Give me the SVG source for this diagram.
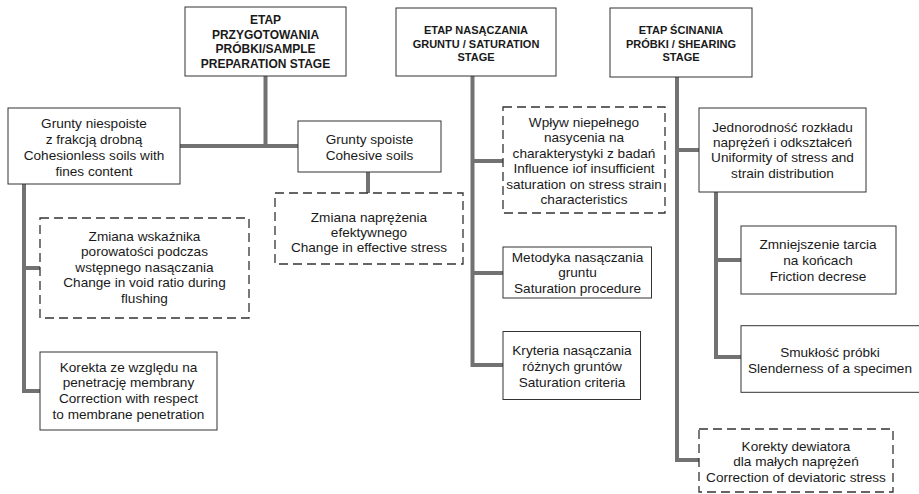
<svg xmlns="http://www.w3.org/2000/svg" width="919" height="494" viewBox="0 0 919 494">
<style>
  .box { fill: #fff; stroke: #333; stroke-width: 1; }
  .dash { fill: #fff; stroke: #333; stroke-width: 1.3; stroke-dasharray: 9 5; }
  .hd { font-family: "Liberation Sans", Arial, sans-serif; font-weight: bold; font-size: 11px; fill: #1a1a1a; text-anchor: middle; }
  .hd1 { font-size: 12px; }
  .tx { font-family: "Liberation Sans", Arial, sans-serif; font-size: 13.6px; fill: #1a1a1a; text-anchor: middle; }
  .ln { fill: none; stroke: #727272; stroke-width: 4; stroke-linejoin: miter; stroke-linecap: butt; }
</style>
<rect width="919" height="494" fill="#fff"/>
<g id="connectors">
  <polyline class="ln" points="265.5,76 265.5,146"/>
  <polyline class="ln" points="180,146 298,146"/>
  <polyline class="ln" points="368,172 368,193"/>
  <polyline class="ln" points="40,268 24,268"/>
  <polyline class="ln" points="24,184 24,391 40,391"/>
  <polyline class="ln" points="472.5,76 472.5,365 503,365"/>
  <polyline class="ln" points="472.5,161 503,161"/>
  <polyline class="ln" points="472.5,273 503,273"/>
  <polyline class="ln" points="677,77 677,460 699,460"/>
  <polyline class="ln" points="677,150 699,150"/>
  <polyline class="ln" points="716,192 716,357 741,357"/>
  <polyline class="ln" points="716,260 741,260"/>
</g>
<g id="stage1">
  <rect class="box" x="185" y="7" width="161" height="69"/>
  <text class="hd hd1" x="265.5" y="24">ETAP</text>
  <text class="hd hd1" x="265.5" y="38.5">PRZYGOTOWANIA</text>
  <text class="hd hd1" x="265.5" y="53">PRÓBKI/SAMPLE</text>
  <text class="hd hd1" x="265.5" y="67.5">PREPARATION STAGE</text>
</g>
<g id="stage2">
  <rect class="box" x="396" y="8" width="160" height="68"/>
  <text class="hd" x="476" y="34.3">ETAP NASĄCZANIA</text>
  <text class="hd" x="476" y="47.7">GRUNTU / SATURATION</text>
  <text class="hd" x="476" y="61">STAGE</text>
</g>
<g id="stage3">
  <rect class="box" x="610" y="8" width="142" height="69"/>
  <text class="hd" x="681" y="34.3">ETAP ŚCINANIA</text>
  <text class="hd" x="681" y="47.7">PRÓBKI / SHEARING</text>
  <text class="hd" x="681" y="61">STAGE</text>
</g>
<g id="cohesionless">
  <rect class="box" x="8" y="108" width="172" height="76"/>
  <text class="tx" x="94" y="128.3">Grunty niespoiste</text>
  <text class="tx" x="94" y="144.3">z frakcją drobną</text>
  <text class="tx" x="94" y="160.3">Cohesionless soils with</text>
  <text class="tx" x="94" y="176">fines content</text>
</g>
<g id="cohesive">
  <rect class="box" x="298" y="121" width="143" height="51"/>
  <text class="tx" x="369.5" y="143.5">Grunty spoiste</text>
  <text class="tx" x="369.5" y="160">Cohesive soils</text>
</g>
<g id="effective-stress">
  <rect class="dash" x="275" y="193" width="188" height="71"/>
  <text class="tx" x="369" y="221.5">Zmiana naprężenia</text>
  <text class="tx" x="369" y="236.5">efektywnego</text>
  <text class="tx" x="369" y="251.5">Change in effective stress</text>
</g>
<g id="void-ratio">
  <rect class="dash" x="40" y="218" width="209" height="100"/>
  <text class="tx" x="144.5" y="240.5">Zmiana wskaźnika</text>
  <text class="tx" x="144.5" y="256">porowatości podczas</text>
  <text class="tx" x="144.5" y="271.5">wstępnego nasączania</text>
  <text class="tx" x="144.5" y="287">Change in void ratio during</text>
  <text class="tx" x="144.5" y="302.5">flushing</text>
</g>
<g id="membrane">
  <rect class="box" x="40" y="352" width="177" height="78"/>
  <text class="tx" x="128.5" y="371.5">Korekta ze względu na</text>
  <text class="tx" x="128.5" y="387.3">penetrację membrany</text>
  <text class="tx" x="128.5" y="403.1">Correction with respect</text>
  <text class="tx" x="128.5" y="419">to membrane penetration</text>
</g>
<g id="insufficient-saturation">
  <rect class="dash" x="503" y="107" width="162" height="106"/>
  <text class="tx" x="584" y="126.7">Wpływ niepełnego</text>
  <text class="tx" x="584" y="142.2">nasycenia na</text>
  <text class="tx" x="584" y="157.7">charakterystyki z badań</text>
  <text class="tx" x="584" y="173.2">Influence iof insufficient</text>
  <text class="tx" x="584" y="188.7">saturation on stress strain</text>
  <text class="tx" x="584" y="204.2">characteristics</text>
</g>
<g id="saturation-procedure">
  <rect class="box" x="503" y="247" width="148.5" height="51"/>
  <text class="tx" x="577.5" y="261.7">Metodyka nasączania</text>
  <text class="tx" x="577.5" y="276.7">gruntu</text>
  <text class="tx" x="577.5" y="293.3">Saturation procedure</text>
</g>
<g id="saturation-criteria">
  <rect class="box" x="503" y="331.5" width="137.5" height="68"/>
  <text class="tx" x="572" y="355">Kryteria nasączania</text>
  <text class="tx" x="572" y="370.5">różnych gruntów</text>
  <text class="tx" x="572" y="386.5">Saturation criteria</text>
</g>
<g id="uniformity">
  <rect class="box" x="699" y="108" width="167" height="84"/>
  <text class="tx" x="782.5" y="131.7">Jednorodność rozkładu</text>
  <text class="tx" x="782.5" y="146.7">naprężeń i odkształceń</text>
  <text class="tx" x="782.5" y="162.3">Uniformity of stress and</text>
  <text class="tx" x="782.5" y="177.7">strain distribution</text>
</g>
<g id="friction">
  <rect class="box" x="741" y="226" width="155" height="68"/>
  <text class="tx" x="818" y="249.3">Zmniejszenie tarcia</text>
  <text class="tx" x="818" y="265">na końcach</text>
  <text class="tx" x="818" y="280.7">Friction decrese</text>
</g>
<g id="slenderness">
  <rect class="box" x="741" y="325.7" width="190" height="66.6"/>
  <text class="tx" x="830" y="357.3">Smukłość próbki</text>
  <text class="tx" x="830" y="372.5">Slenderness of a specimen</text>
</g>
<g id="deviatoric">
  <rect class="dash" x="699" y="429" width="194" height="63"/>
  <text class="tx" x="796" y="451">Korekty dewiatora</text>
  <text class="tx" x="796" y="466">dla małych naprężeń</text>
  <text class="tx" x="796" y="481.7">Correction of deviatoric stress</text>
</g>
</svg>
